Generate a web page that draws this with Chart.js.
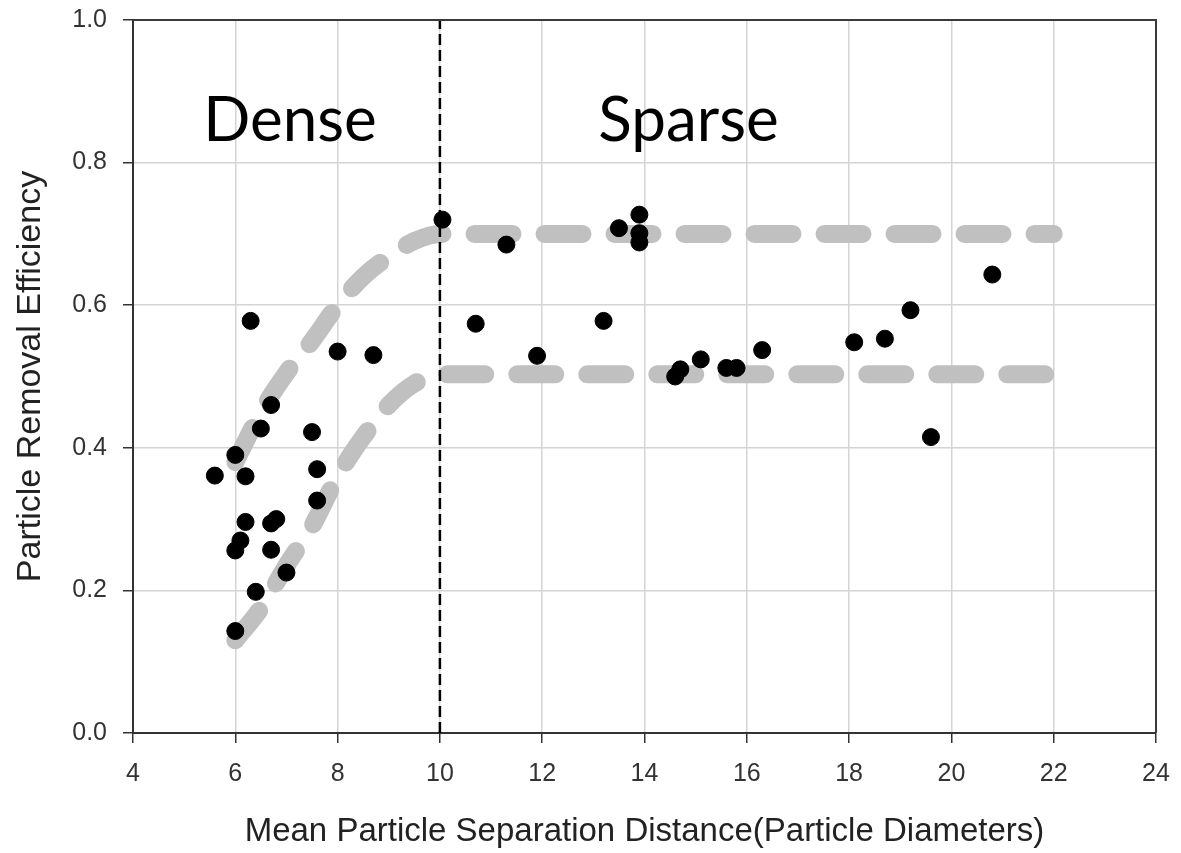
<!DOCTYPE html>
<html>
<head>
<meta charset="utf-8">
<script src="https://cdn.jsdelivr.net/npm/chart.js@4.4.1/dist/chart.umd.min.js"></script>
<style>
  html, body { margin: 0; padding: 0; background: #fff; }
  #wrap { width: 1181px; height: 853px; }
</style>
</head>
<body>
<div id="wrap"><canvas id="myChart"></canvas></div>
<script>
// measured samples
const distance = [5.6, 6.0, 6.0, 6.0, 6.1, 6.2, 6.2, 6.3, 6.4, 6.5, 6.7, 6.7, 6.7, 6.8, 7.0, 7.5, 7.6, 7.6, 8.0, 8.7,
  10.05, 10.7, 11.3, 11.9, 13.2, 13.5, 13.9, 13.9, 13.9, 14.6, 14.7, 15.1, 15.6, 15.8, 16.3, 18.1, 18.7, 19.2, 19.6, 20.8];
const efficiency = [0.361, 0.39, 0.256, 0.143, 0.27, 0.36, 0.296, 0.578, 0.198, 0.427, 0.46, 0.294, 0.257, 0.30, 0.225, 0.422, 0.37, 0.326, 0.535, 0.53,
  0.72, 0.574, 0.685, 0.529, 0.578, 0.708, 0.727, 0.701, 0.688, 0.50, 0.51, 0.524, 0.512, 0.512, 0.537, 0.548, 0.553, 0.593, 0.415, 0.643];

// hand drawn trend bands
const upperX = [6.0, 6.5, 7.0, 7.5, 8.0, 8.5, 9.0, 9.5, 10.0, 22.0];
const upperY = [0.38, 0.45, 0.505, 0.55, 0.60, 0.64, 0.668, 0.69, 0.70, 0.70];
const lowerX = [6.0, 6.5, 7.0, 7.5, 8.0, 8.5, 9.0, 9.5, 10.0, 22.0];
const lowerY = [0.13, 0.175, 0.235, 0.29, 0.36, 0.415, 0.46, 0.49, 0.503, 0.503];

// dense / sparse boundary
const boundaryX = [10, 10];
const boundaryY = [0, 1];

const regionLabels = ['Dense', 'Sparse'];

const xTicks = [4, 6, 8, 10, 12, 14, 16, 18, 20, 22, 24];
const yTicks = [0, 0.2, 0.4, 0.6, 0.8, 1.0];

const pts = (xs, ys) => xs.map((x, i) => ({ x: x, y: ys[i] }));

const regionText = {
  id: 'regionText',
  afterDatasetsDraw(chart) {
    const { ctx, scales: { x, y } } = chart;
    const spots = [7.07, 14.86];
    ctx.save();
    ctx.font = '62px Lato, "Open Sans", sans-serif';
    ctx.fillStyle = '#000';
    ctx.textAlign = 'center';
    ctx.textBaseline = 'alphabetic';
    regionLabels.forEach((t, i) => {
      ctx.fillText(t, x.getPixelForValue(spots[i]), y.getPixelForValue(0.83));
    });
    ctx.restore();
  }
};

const frame = {
  id: 'frame',
  afterDraw(chart) {
    const { ctx, chartArea: a } = chart;
    ctx.save();
    ctx.strokeStyle = '#3a3a3a';
    ctx.lineWidth = 2;
    ctx.beginPath();
    ctx.moveTo(a.left, a.top);
    ctx.lineTo(a.right, a.top);
    ctx.lineTo(a.right, a.bottom);
    ctx.stroke();
    ctx.restore();
  }
};

const data = {
  datasets: [
    {
      type: 'scatter',
      label: 'Samples',
      data: pts(distance, efficiency),
      backgroundColor: '#000',
      borderColor: '#000',
      borderWidth: 1,
      pointRadius: 8.5
    },
    {
      type: 'line',
      label: 'Boundary',
      data: pts(boundaryX, boundaryY),
      borderColor: '#000',
      borderWidth: 2.5,
      borderDash: [11, 5],
      pointRadius: 0,
      fill: false
    },
    {
      type: 'line',
      label: 'Upper',
      data: pts(upperX, upperY),
      borderColor: '#c0c0c0',
      borderWidth: 18,
      borderDash: [38, 32],
      borderCapStyle: 'round',
      cubicInterpolationMode: 'monotone',
      pointRadius: 0,
      fill: false
    },
    {
      type: 'line',
      label: 'Lower',
      data: pts(lowerX, lowerY),
      borderColor: '#c0c0c0',
      borderWidth: 18,
      borderDash: [38, 32],
      borderCapStyle: 'round',
      cubicInterpolationMode: 'monotone',
      pointRadius: 0,
      fill: false
    }
  ]
};

const axisFont = '"Liberation Sans", Arial, sans-serif';

const config = {
  type: 'scatter',
  data: data,
  plugins: [regionText, frame],
  options: {
    responsive: true,
    maintainAspectRatio: false,
    animation: false,
    layout: { padding: { top: 20, right: 25, left: 0, bottom: 0 } },
    plugins: {
      legend: { display: false },
      tooltip: { enabled: false }
    },
    scales: {
      x: {
        type: 'linear',
        min: 4,
        max: 24,
        afterFit: s => { s.height = 120; s.paddingLeft = 0; s.paddingRight = 0; },
        afterBuildTicks: s => { s.ticks = xTicks.map(v => ({ value: v })); },
        ticks: {
          padding: 16,
          color: '#333',
          font: { family: axisFont, size: 25 }
        },
        grid: { color: '#d4d4d4', lineWidth: 1.5, tickColor: '#333', tickLength: 10 },
        border: { color: '#333', width: 2 },
        title: {
          display: true,
          text: 'Mean Particle Separation Distance(Particle Diameters)',
          color: '#222',
          padding: { top: 0, bottom: 1 },
          font: { family: axisFont, size: 33 }
        }
      },
      y: {
        type: 'linear',
        min: 0,
        max: 1,
        afterFit: s => { s.width = 133; s.paddingTop = 0; s.paddingBottom = 0; },
        afterBuildTicks: s => { s.ticks = yTicks.map(v => ({ value: v })); },
        ticks: {
          padding: 16,
          color: '#333',
          callback: v => v.toFixed(1),
          font: { family: axisFont, size: 25 }
        },
        grid: { color: '#d4d4d4', lineWidth: 1.5, tickColor: '#333', tickLength: 10 },
        border: { color: '#333', width: 2 },
        title: {
          display: true,
          text: 'Particle Removal Efficiency',
          color: '#222',
          padding: { top: 10, bottom: 0 },
          font: { family: axisFont, size: 34 }
        }
      }
    }
  }
};

const myChart = new Chart(document.getElementById('myChart'), config);
</script>
</body>
</html>
